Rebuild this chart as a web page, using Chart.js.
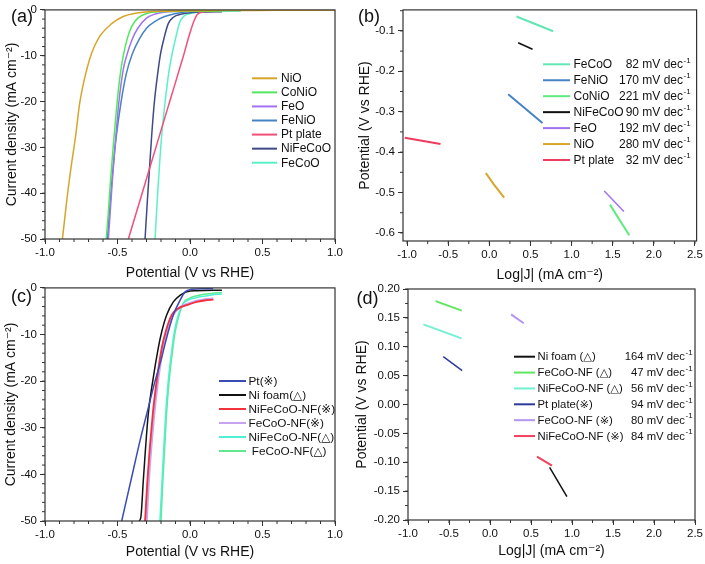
<!DOCTYPE html>
<html><head><meta charset="utf-8">
<script src="https://cdn.jsdelivr.net/npm/chart.js@4/dist/chart.umd.min.js"></script>
<style>
html,body{margin:0;padding:0;background:#fff;width:705px;height:564px;overflow:hidden;}
canvas{position:absolute;}
</style></head><body>
<canvas id="ca" width="352" height="284" style="left:0;top:0"></canvas>
<canvas id="cb" width="353" height="284" style="left:352px;top:0"></canvas>
<canvas id="cc" width="352" height="286" style="left:0;top:278px"></canvas>
<canvas id="cd" width="353" height="286" style="left:352px;top:278px"></canvas>
<script>
// ================= DATA =================
// Panel (a): LSV curves, potential (V vs RHE) vs current density (mA cm-2)
const a_NiO_V = [-0.88,-0.862,-0.85,-0.821,-0.788,-0.76,-0.712,-0.678,-0.625,-0.54,-0.471,-0.368,-0.2,0.2,0.6,1.0];
const a_NiO_J = [-50,-45,-41.6,-34.5,-27.3,-20.2,-13,-9.4,-5.9,-3,-1.6,-0.7,-0.3,-0.15,-0.1,-0.05];
const a_CoNiO_V = [-0.578,-0.565,-0.55,-0.53,-0.508,-0.485,-0.46,-0.43,-0.40,-0.36,-0.30,-0.22,0.0,0.22];
const a_CoNiO_J = [-50,-45,-38,-30,-22,-15,-10,-6,-3.5,-1.8,-0.8,-0.4,-0.3,-0.25];
const a_FeO_V = [-0.563,-0.55,-0.535,-0.515,-0.49,-0.46,-0.437,-0.40,-0.36,-0.30,-0.24,-0.18,0.0,0.22];
const a_FeO_J = [-50,-44,-37,-29,-20,-13,-10,-6.5,-4,-1.8,-0.9,-0.5,-0.3,-0.25];
const a_FeNiO_V = [-0.57,-0.555,-0.535,-0.51,-0.475,-0.44,-0.40,-0.35,-0.30,-0.24,-0.18,-0.10,-0.05,0.1,0.22];
const a_FeNiO_J = [-50,-44,-36,-28,-20,-14,-9.8,-6.4,-4.0,-2.5,-1.5,-0.8,-0.5,-0.35,-0.3];
const a_Pt_V = [-0.425,-0.33,-0.235,-0.14,-0.045,0.0,0.03,0.05,0.08,0.15,0.22];
const a_Pt_J = [-50,-40,-30,-20,-10,-5,-2.2,-1,-0.5,-0.35,-0.3];
const a_NiFeCoO_V = [-0.31,-0.294,-0.264,-0.246,-0.219,-0.202,-0.177,-0.15,-0.115,-0.057,0.0,0.1,0.22];
const a_NiFeCoO_J = [-50,-41.6,-27.3,-20.2,-13,-9.4,-5.9,-3,-1.6,-0.9,-0.6,-0.45,-0.4];
const a_FeCoO_V = [-0.241,-0.226,-0.195,-0.172,-0.143,-0.122,-0.097,-0.074,-0.05,-0.012,0.05,0.2,0.35];
const a_FeCoO_J = [-50,-41.6,-27.3,-20.2,-13,-9.4,-5.9,-3,-1.6,-0.9,-0.5,-0.35,-0.3];

// Panel (b): Tafel lines, log|J| vs potential
const b_FeCoO_L = [0.330,0.776];  const b_FeCoO_V = [-0.0643,-0.1008];
const b_FeNiO_L = [0.229,0.646];  const b_FeNiO_V = [-0.2567,-0.328];
const b_CoNiO_L = [1.466,1.701];  const b_CoNiO_V = [-0.530,-0.6057];
const b_NiFeCoO_L = [0.350,0.525]; const b_NiFeCoO_V = [-0.1292,-0.1455];
const b_FeO_L = [1.397,1.636];    const b_FeO_V = [-0.4963,-0.547];
const b_NiO_L = [-0.043,0.054,0.180]; const b_NiO_V = [-0.4516,-0.480,-0.5125];
const b_Pt_L = [-1.028,-0.594];   const b_Pt_V = [-0.3647,-0.380];
const slopesB = ['82','170','221','90','192','280','32'];

// Panel (c): LSV curves on Ni foam
const c_Pt_V = [-0.471,-0.40,-0.345,-0.29,-0.241,-0.20,-0.179,-0.15,-0.115,-0.074,-0.034,0.01,0.08,0.16];
const c_Pt_J = [-50,-40.3,-32.8,-26,-20,-15.5,-12.9,-9.4,-5.8,-3.0,-0.85,-0.3,-0.2,-0.2];
const c_NiFoam_V = [-0.35,-0.338,-0.322,-0.288,-0.257,-0.219,-0.195,-0.161,-0.115,-0.069,-0.023,0.05,0.22];
const c_NiFoam_J = [-50,-49,-41.3,-27.1,-20,-12.9,-9.4,-5.8,-3.0,-1.6,-0.85,-0.6,-0.5];
const c_NiFeCoOs_V = [-0.31,-0.294,-0.257,-0.23,-0.195,-0.168,-0.126,-0.081,-0.023,0.046,0.10,0.161];
const c_NiFeCoOs_J = [-50,-41.3,-27.1,-20,-12.9,-9.4,-5.8,-4.4,-3.7,-3.0,-2.7,-2.5];
const c_FeCoOs_V = [-0.30,-0.285,-0.248,-0.222,-0.187,-0.16,-0.118,-0.075,-0.02,0.046,0.10,0.161];
const c_FeCoOs_J = [-50,-41.3,-27.1,-20,-12.9,-9.4,-5.8,-4.3,-3.5,-2.8,-2.5,-2.3];
const c_NiFeCoOt_V = [-0.207,-0.193,-0.168,-0.15,-0.124,-0.108,-0.081,-0.05,-0.012,0.03,0.069,0.15,0.22];
const c_NiFeCoOt_J = [-50,-41.3,-27.1,-20,-12.9,-9.4,-5.8,-3.5,-2.6,-2.2,-1.9,-1.5,-1.3];
const c_FeCoOt_V = [-0.20,-0.187,-0.162,-0.144,-0.118,-0.102,-0.075,-0.045,-0.008,0.03,0.07,0.15,0.22];
const c_FeCoOt_J = [-50,-41.3,-27.1,-20,-12.9,-9.4,-5.8,-3.2,-2.3,-1.8,-1.5,-1.2,-1.0];

// Panel (d): Tafel lines on Ni foam
const d_NiFoam_L = [0.727,0.938];     const d_NiFoam_V = [-0.109,-0.1596];
const d_FeCoOt_L = [-0.663,-0.345];   const d_FeCoOt_V = [0.179,0.1625];
const d_NiFeCoOt_L = [-0.813,-0.347]; const d_NiFeCoOt_V = [0.1388,0.1146];
const d_Pt_L = [-0.570,-0.339];       const d_Pt_V = [0.0829,0.0586];
const d_FeCoOs_L = [0.257,0.411];     const d_FeCoOs_V = [0.156,0.1406];
const d_NiFeCoOs_L = [0.573,0.756];   const d_NiFeCoOs_V = [-0.0902,-0.1058];
const slopesD = ['164','47','56','94','80','84'];

// tick values
const ticksLSV_x = [-1.0,-0.5,0.0,0.5,1.0];
const ticksLSV_y = [-50,-40,-30,-20,-10,0];
const ticksTafel_x = [-1.0,-0.5,0.0,0.5,1.0,1.5,2.0,2.5];
const ticksB_y = [-0.6,-0.5,-0.4,-0.3,-0.2,-0.1];
const ticksD_y = [-0.20,-0.15,-0.10,-0.05,0.00,0.05,0.10,0.15,0.20];

// ================= RENDER =================
const FAM = "'Liberation Sans', Arial, 'DejaVu Sans', sans-serif";
Chart.defaults.font.family = FAM;
Chart.defaults.color = '#111';
const pts = (xs, ys) => xs.map((x, i) => ({x, y: ys[i]}));
const ds = (label, xs, ys, color, w, smooth) => ({
  label, data: pts(xs, ys), borderColor: color, backgroundColor: color,
  borderWidth: w, pointRadius: 0, showLine: true, fill: false,
  cubicInterpolationMode: smooth ? 'monotone' : 'default', tension: 0
});

const panelPlugin = {
  id: 'panel',
  afterDraw(chart, args, o) {
    const ctx = chart.ctx, ca = chart.chartArea;
    const xs = chart.scales.x, ys = chart.scales.y;
    ctx.save();
    ctx.strokeStyle = '#333'; ctx.lineWidth = 1.2;
    ctx.strokeRect(ca.left, ca.top, ca.right - ca.left, ca.bottom - ca.top);
    ctx.lineWidth = 1;
    ctx.beginPath();
    for (let k = Math.ceil(xs.min / o.xMinor - 1e-6); k * o.xMinor <= xs.max + 1e-9; k++) {
      const p = xs.getPixelForValue(k * o.xMinor);
      ctx.moveTo(p, ca.bottom); ctx.lineTo(p, ca.bottom + 3);
    }
    for (let k = Math.ceil(ys.min / o.yMinor - 1e-6); k * o.yMinor <= ys.max + 1e-9; k++) {
      const p = ys.getPixelForValue(k * o.yMinor);
      ctx.moveTo(ca.left, p); ctx.lineTo(ca.left - 3, p);
    }
    ctx.stroke();
    // panel label
    ctx.fillStyle = '#111'; ctx.font = `18px ${FAM}`;
    ctx.textAlign = 'left'; ctx.textBaseline = 'middle';
    ctx.fillText(o.label, o.lx, o.ly);
    // legend
    const lg = o.legend;
    chart.data.datasets.forEach((d, i) => {
      const y = lg.y0 + i * lg.dy;
      ctx.strokeStyle = d.borderColor; ctx.lineWidth = 2;
      ctx.beginPath(); ctx.moveTo(lg.x0, y); ctx.lineTo(lg.x1, y); ctx.stroke();
      ctx.fillStyle = '#111'; ctx.font = `${lg.size}px ${FAM}`;
      ctx.textAlign = 'left'; ctx.textBaseline = 'middle';
      ctx.fillText(d.label, lg.tx, y + 0.5);
      if (lg.slopes) {
        ctx.textAlign = 'right';
        ctx.fillText(lg.slopes[i] + ' mV dec', lg.sx, y + 0.5);
        ctx.font = `8px ${FAM}`; ctx.textAlign = 'left';
        ctx.fillText('-1', lg.sx + 0.5, y - 4);
      }
    });
    ctx.restore();
  }
};

function makeChart(id, c) {
  const axisCommon = (min, max, ticks, dec, title, isX) => ({
    type: 'linear', min, max,
    afterBuildTicks(s) { s.ticks = ticks.map(v => ({value: v})); },
    afterFit(s) { if (isX) s.height = c.xH; else s.width = c.yW; },
    ticks: { callback: v => Number(v).toFixed(dec), font: {size: 11.5}, padding: isX ? 2 : 3,
             color: '#111', autoSkip: false, maxRotation: 0 },
    grid: { display: true, drawOnChartArea: false, drawTicks: true, tickLength: 5,
            tickColor: '#333', tickWidth: 1 },
    border: { display: false },
    title: { display: true, text: title, font: {size: 14}, color: '#111',
             padding: isX ? {top: 0, bottom: c.xtPad} : {top: c.ytPad, bottom: 0} }
  });
  return new Chart(document.getElementById(id), {
    type: 'scatter',
    data: { datasets: c.datasets },
    options: {
      responsive: false, animation: false, devicePixelRatio: 1,
      layout: { padding: { left: 0, top: c.padTop, right: c.padRight, bottom: 0 } },
      plugins: { legend: {display: false}, tooltip: {enabled: false},
                 panel: c.panel },
      scales: {
        x: axisCommon(c.xMin, c.xMax, c.xTicks, c.xDec, c.xTitle, true),
        y: axisCommon(c.yMin, c.yMax, c.yTicks, c.yDec, c.yTitle, false)
      }
    },
    plugins: [panelPlugin]
  });
}

const titleJ = 'Current density (mA cm⁻²)';
const titleV = 'Potential (V vs RHE)';
const titleLog = 'Log|J| (mA cm⁻²)';

makeChart('ca', {
  datasets: [
    ds('NiO', a_NiO_V, a_NiO_J, '#D6A52A', 1.5, true),
    ds('CoNiO', a_CoNiO_V, a_CoNiO_J, '#52E85E', 1.5, true),
    ds('FeO', a_FeO_V, a_FeO_J, '#A172EE', 1.5, true),
    ds('FeNiO', a_FeNiO_V, a_FeNiO_J, '#4682C4', 1.5, true),
    ds('Pt plate', a_Pt_V, a_Pt_J, '#F24F78', 1.5, true),
    ds('NiFeCoO', a_NiFeCoO_V, a_NiFeCoO_J, '#3E4A86', 1.5, true),
    ds('FeCoO', a_FeCoO_V, a_FeCoO_J, '#5CF0C8', 1.5, true)
  ],
  xMin: -1, xMax: 1, yMin: -50, yMax: 0, xTicks: ticksLSV_x, yTicks: ticksLSV_y, xDec: 1, yDec: 0,
  xTitle: titleV, yTitle: titleJ, yW: 45, xH: 45, padTop: 6, padRight: 17, xtPad: 2.6, ytPad: 4.1,
  panel: { xMinor: 0.1, yMinor: 2, label: '(a)', lx: 11, ly: 17,
           legend: { x0: 252, x1: 277, tx: 281, y0: 78.3, dy: 14.07, size: 12 } }
});

makeChart('cb', {
  datasets: [
    ds('FeCoO', b_FeCoO_L, b_FeCoO_V, '#62E6B4', 2, false),
    ds('FeNiO', b_FeNiO_L, b_FeNiO_V, '#4682C4', 2, false),
    ds('CoNiO', b_CoNiO_L, b_CoNiO_V, '#5EEA80', 2, false),
    ds('NiFeCoO', b_NiFeCoO_L, b_NiFeCoO_V, '#111111', 1.5, false),
    ds('FeO', b_FeO_L, b_FeO_V, '#A172EE', 1.5, false),
    ds('NiO', b_NiO_L, b_NiO_V, '#D6A52A', 2, false),
    ds('Pt plate', b_Pt_L, b_Pt_V, '#EE3C5C', 2, false)
  ],
  xMin: -1.05, xMax: 2.52, yMin: -0.62, yMax: -0.048, xTicks: ticksTafel_x, yTicks: ticksB_y, xDec: 1, yDec: 1,
  xTitle: titleLog, yTitle: titleV, yW: 51, xH: 43, padTop: 6, padRight: 8, xtPad: 0.6, ytPad: 4.6,
  panel: { xMinor: 0.25, yMinor: 0.05, label: '(b)', lx: 6, ly: 17,
           legend: { x0: 191, x1: 218, tx: 221.5, y0: 64.3, dy: 15.95, size: 12, slopes: slopesB, sx: 331 } }
});

makeChart('cc', {
  datasets: [
    ds('Pt(※)', c_Pt_V, c_Pt_J, '#3A4CB4', 1.5, true),
    ds('Ni foam(△)', c_NiFoam_V, c_NiFoam_J, '#111111', 1.5, true),
    ds('NiFeCoO-NF(※)', c_NiFeCoOs_V, c_NiFeCoOs_J, '#F2303E', 1.8, true),
    ds('FeCoO-NF(※)', c_FeCoOs_V, c_FeCoOs_J, '#C8A4F0', 2.5, true),
    ds('NiFeCoO-NF(△)', c_NiFeCoOt_V, c_NiFeCoOt_J, '#52F0D2', 1.5, true),
    ds(' FeCoO-NF(△)', c_FeCoOt_V, c_FeCoOt_J, '#62E88E', 1.5, true)
  ],
  xMin: -1, xMax: 1, yMin: -50, yMax: 0, xTicks: ticksLSV_x, yTicks: ticksLSV_y, xDec: 1, yDec: 0,
  xTitle: titleV, yTitle: titleJ, yW: 45, xH: 43, padTop: 8, padRight: 17, xtPad: 3.9, ytPad: 2.6,
  panel: { xMinor: 0.1, yMinor: 2, label: '(c)', lx: 11, ly: 19.5,
           legend: { x0: 219, x1: 246, tx: 248.5, y0: 103, dy: 14, size: 11.8 } }
});

makeChart('cd', {
  datasets: [
    ds('Ni foam (△)', d_NiFoam_L, d_NiFoam_V, '#111111', 1.5, false),
    ds('FeCoO-NF (△)', d_FeCoOt_L, d_FeCoOt_V, '#5EE65E', 2, false),
    ds('NiFeCoO-NF (△)', d_NiFeCoOt_L, d_NiFeCoOt_V, '#72F0D4', 2, false),
    ds('Pt plate(※)', d_Pt_L, d_Pt_V, '#2C3A9C', 1.5, false),
    ds('FeCoO-NF (※)', d_FeCoOs_L, d_FeCoOs_V, '#B394F0', 2, false),
    ds('NiFeCoO-NF (※)', d_NiFeCoOs_L, d_NiFeCoOs_V, '#F2405E', 2, false)
  ],
  xMin: -1.0, xMax: 2.5, yMin: -0.2, yMax: 0.2, xTicks: ticksTafel_x, yTicks: ticksD_y, xDec: 1, yDec: 2,
  xTitle: titleLog, yTitle: titleV, yW: 56, xH: 44, padTop: 11, padRight: 8, xtPad: 4.6, ytPad: 1.3,
  panel: { xMinor: 0.25, yMinor: 0.025, label: '(d)', lx: 4.5, ly: 21,
           legend: { x0: 162, x1: 183, tx: 185.5, y0: 78.7, dy: 15.87, size: 11.3, slopes: slopesD, sx: 333 } }
});
</script>
</body></html>
